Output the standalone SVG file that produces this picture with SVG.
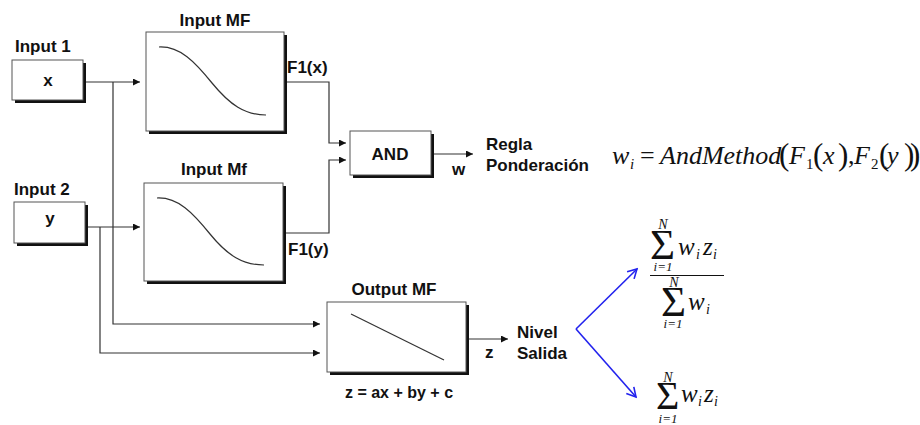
<svg xmlns="http://www.w3.org/2000/svg" width="920" height="425" viewBox="0 0 920 425">
<style>
.lbl{font-family:"Liberation Sans",Arial,sans-serif;font-weight:bold;font-size:17px;fill:#111}
.box{fill:#fff;stroke:#555;stroke-width:1}
.sh{fill:#111}
.crv{fill:none;stroke:#333;stroke-width:1.2}
.con{fill:none;stroke:#333;stroke-width:1.2}
.blue{fill:none;stroke:#2222ee;stroke-width:1.6}
.m{font-family:"Liberation Serif","Times New Roman",serif;font-style:italic;fill:#111}
.mr{font-family:"Liberation Serif","Times New Roman",serif;fill:#111}
</style>
<defs>
<marker id="ah" markerUnits="userSpaceOnUse" markerWidth="7" markerHeight="7" refX="7" refY="3.5" orient="auto">
<path d="M0,0 L7,3.5 L0,7 z" fill="#111"/>
</marker>
<marker id="bh" markerUnits="userSpaceOnUse" markerWidth="12" markerHeight="12" refX="10" refY="6" orient="auto">
<path d="M1,1 L10,6 L1,11" fill="none" stroke="#2222ee" stroke-width="1.6"/>
</marker>
</defs>
<rect width="920" height="425" fill="#fff"/>

<g id="connectors">
<path class="con" d="M83,82 H140" marker-end="url(#ah)"/>
<path class="con" d="M113,82 V324 H320" marker-end="url(#ah)"/>
<path class="con" d="M85,227 H140" marker-end="url(#ah)"/>
<path class="con" d="M100,227 V353 H320" marker-end="url(#ah)"/>
<path class="con" d="M284,82 H329 V143 H346" marker-end="url(#ah)"/>
<path class="con" d="M283,233 H329 V160 H346" marker-end="url(#ah)"/>
<path class="con" d="M431,154 H473" marker-end="url(#ah)"/>
<path class="con" d="M466,339 H508" marker-end="url(#ah)"/>
<path class="blue" d="M576,329 L637,269" marker-end="url(#bh)"/>
<path class="blue" d="M576,329 L636,397" marker-end="url(#bh)"/>
</g>

<g id="input1">
<text class="lbl" x="15" y="52">Input 1</text>
<rect class="sh" x="15" y="63" width="71" height="40"/>
<rect class="box" x="12" y="60" width="71" height="40"/>
<text class="lbl" x="48" y="86" text-anchor="middle">x</text>
</g>

<g id="input2">
<text class="lbl" x="14" y="195">Input 2</text>
<rect class="sh" x="17" y="205" width="71" height="41"/>
<rect class="box" x="14" y="202" width="71" height="41"/>
<text class="lbl" x="50" y="224" text-anchor="middle">y</text>
</g>

<g id="inputMF1">
<text class="lbl" x="215" y="26" text-anchor="middle">Input MF</text>
<rect class="sh" x="149" y="35" width="138" height="99"/>
<rect class="box" x="146" y="32" width="138" height="99"/>
<path class="crv" d="M159,47 C180,46 195,62 212,83 C230,105 245,115 266,115"/>
<text class="lbl" x="287" y="73">F1(x)</text>
</g>

<g id="inputMF2">
<text class="lbl" x="214" y="175" text-anchor="middle">Input Mf</text>
<rect class="sh" x="147" y="186" width="139" height="98"/>
<rect class="box" x="144" y="183" width="139" height="98"/>
<path class="crv" d="M157,198 C178,197 193,213 210,234 C228,256 243,265 264,265"/>
<text class="lbl" x="288" y="255">F1(y)</text>
</g>

<g id="and">
<rect class="sh" x="353" y="134" width="81" height="44"/>
<rect class="box" x="350" y="131" width="81" height="44"/>
<text class="lbl" x="390" y="160" text-anchor="middle">AND</text>
<text class="lbl" x="452" y="175">w</text>
<text class="lbl" x="486" y="150">Regla</text>
<text class="lbl" x="486" y="171">Ponderación</text>
</g>

<g id="outputMF">
<text class="lbl" x="394" y="295" text-anchor="middle">Output MF</text>
<rect class="sh" x="330" y="305" width="139" height="70"/>
<rect class="box" x="327" y="302" width="139" height="70"/>
<path class="crv" d="M351,314 L444,360"/>
<text class="lbl" x="399" y="398" text-anchor="middle" style="font-size:16px">z = ax + by + c</text>
<text class="lbl" x="485" y="358">z</text>
<text class="lbl" x="517" y="338">Nivel</text>
<text class="lbl" x="517" y="359">Salida</text>
</g>

<g id="formula-w">
<text class="m" font-size="26" x="612" y="164">w</text>
<text class="m" font-size="15" x="630" y="169">i</text>
<text class="mr" font-size="26" x="640" y="164">=</text>
<text class="m" font-size="26" x="660" y="164">AndMethod</text>
<text class="mr" font-size="31" x="779" y="165">(</text>
<text class="m" font-size="26" x="789" y="164">F</text>
<text class="mr" font-size="15" x="806" y="169">1</text>
<text class="mr" font-size="31" x="813" y="165">(</text>
<text class="m" font-size="26" x="823" y="164">x</text>
<text class="mr" font-size="31" x="838" y="165">)</text>
<text class="mr" font-size="26" x="848" y="164">,</text>
<text class="m" font-size="26" x="854" y="164">F</text>
<text class="mr" font-size="15" x="871" y="169">2</text>
<text class="mr" font-size="31" x="879" y="165">(</text>
<text class="m" font-size="26" x="887" y="164">y</text>
<text class="mr" font-size="31" x="904" y="165">)</text>
<text class="mr" font-size="31" x="910" y="165">)</text>
</g>

<g id="formula-frac">
<text class="m" font-size="14" x="663" y="229" text-anchor="middle">N</text>
<text class="mr" font-size="43" x="650" y="259">Σ</text>
<text class="m" font-size="13" x="663" y="271" text-anchor="middle">i<tspan class="mr">=1</tspan></text>
<text class="m" font-size="25" x="678" y="255">w</text>
<text class="m" font-size="14" x="696" y="259">i</text>
<text class="m" font-size="25" x="703" y="255">z</text>
<text class="m" font-size="14" x="713" y="259">i</text>
<line x1="650" y1="275.5" x2="724" y2="275.5" stroke="#111" stroke-width="1.2"/>
<text class="m" font-size="14" x="674" y="287" text-anchor="middle">N</text>
<text class="mr" font-size="43" x="661" y="316">Σ</text>
<text class="m" font-size="13" x="673" y="328" text-anchor="middle">i<tspan class="mr">=1</tspan></text>
<text class="m" font-size="25" x="688" y="310">w</text>
<text class="m" font-size="14" x="706" y="314">i</text>
</g>

<g id="formula-sum">
<text class="m" font-size="14" x="668" y="382" text-anchor="middle">N</text>
<text class="mr" font-size="40" x="656" y="409">Σ</text>
<text class="m" font-size="13" x="668" y="423" text-anchor="middle">i<tspan class="mr">=1</tspan></text>
<text class="m" font-size="25" x="681" y="402">w</text>
<text class="m" font-size="14" x="698" y="406">i</text>
<text class="m" font-size="25" x="704" y="402">z</text>
<text class="m" font-size="14" x="714" y="406">i</text>
</g>
</svg>
